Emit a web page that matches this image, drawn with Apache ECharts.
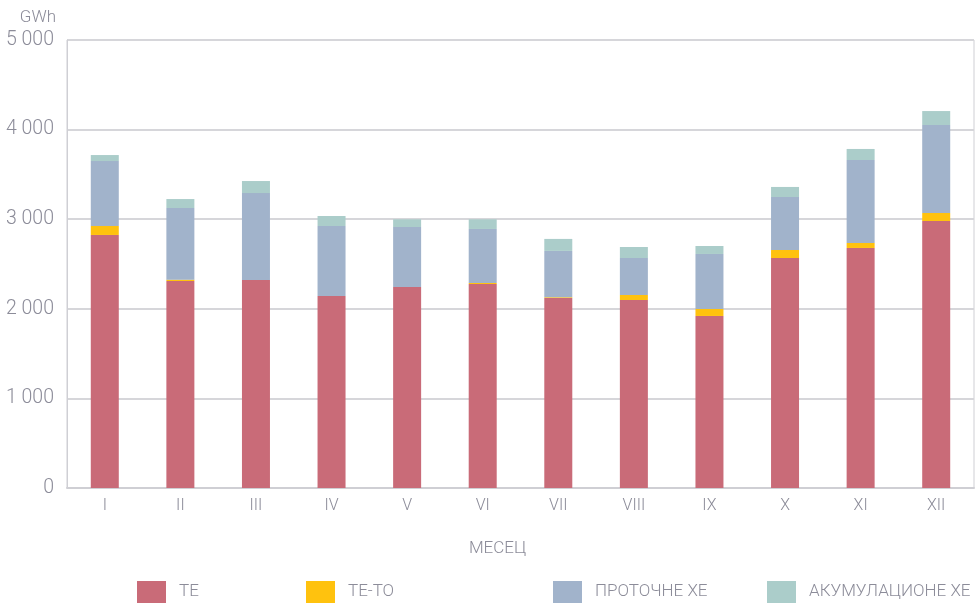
<!DOCTYPE html>
<html>
<head>
<meta charset="utf-8">
<script src="https://cdn.jsdelivr.net/npm/echarts@6/dist/echarts.min.js"></script>
<style>
  html, body { margin: 0; padding: 0; background: #fff; }
  #chart { width: 977px; height: 605px; }
</style>
</head>
<body>
<div id="chart"></div>
<script>
// месеци
var months = ["I", "II", "III", "IV", "V", "VI", "VII", "VIII", "IX", "X", "XI", "XII"];
// GWh, очитано са графикона
var te = [2824, 2310, 2321, 2143, 2243, 2277, 2121, 2098, 1920, 2567, 2679, 2980];
var teto = [100, 15, 0, 0, 0, 11, 8, 56, 78, 89, 56, 89];
var protocne = [725, 800, 971, 781, 670, 603, 517, 413, 614, 592, 926, 982];
var akumulacione = [67, 100, 134, 112, 86, 108, 134, 123, 89, 112, 123, 156];
var yTicks = [0, 1000, 2000, 3000, 4000, 5000];

var names = ["TE", "TE-TO", "ПРОТОЧНЕ ХЕ", "АКУМУЛАЦИОНЕ ХЕ"];
var colors = ["#C96B78", "#FFC20E", "#A1B3CB", "#ABCDCA"];
var textColor = "#8C8C99";
var font = "Roboto";

function fmt(v) {
  return String(v).replace(/\B(?=(\d{3})+(?!\d))/g, " ");
}

var chart = echarts.init(document.getElementById("chart"));

// легенда је неравномерно размакнута, па свака ставка иде посебно
var legendLeft = [132, 301, 548, 762];
var legends = names.map(function (n, i) {
  return {
    data: [n],
    left: legendLeft[i],
    top: 576,
    itemWidth: 29,
    itemHeight: 22,
    itemGap: 0,
    icon: "rect",
    selectedMode: false,
    textStyle: { color: textColor, fontSize: 17, fontFamily: font, fontWeight: 300, padding: [0, 0, 0, 8] },
  };
});

var data = [te, teto, protocne, akumulacione];
chart.setOption({
  animation: false,
  color: colors,
  legend: legends,
  grid: {
    left: 67,
    right: 3,
    top: 40,
    bottom: 117,
    show: true,
    borderColor: "#cfcfd4",
    borderWidth: 1,
  },
  xAxis: {
    type: "category",
    data: months,
    name: "МЕСЕЦ",
    nameLocation: "middle",
    nameGap: 52,
    nameTextStyle: { color: textColor, fontSize: 17, fontFamily: font, fontWeight: 300, padding: [0, 46, 0, 0] },
    axisLine: { lineStyle: { color: "#cfcfd4", width: 2 } },
    axisTick: { show: false },
    axisLabel: { color: textColor, fontSize: 16, fontFamily: font, fontWeight: 300, margin: 10 },
  },
  yAxis: {
    type: "value",
    min: yTicks[0],
    max: yTicks[yTicks.length - 1],
    interval: 1000,
    name: "GWh",
    nameGap: 14,
    nameTextStyle: { color: textColor, fontSize: 17, fontFamily: font, fontWeight: 300, align: "right", padding: [0, 11, 0, 0] },
    axisLine: { show: true, lineStyle: { color: "#cfcfd4", width: 1 } },
    axisTick: { show: false },
    splitLine: { lineStyle: { color: "#d6d6da", width: 2 } },
    axisLabel: {
      color: textColor,
      fontSize: 19.5,
      fontFamily: font,
      fontWeight: 300,
      margin: 13,
      formatter: function (v) { return fmt(v); },
    },
  },
  series: names.map(function (n, i) {
    return {
      name: n,
      type: "bar",
      stack: "total",
      barWidth: 28,
      data: data[i],
    };
  }),
});
</script>
</body>
</html>
